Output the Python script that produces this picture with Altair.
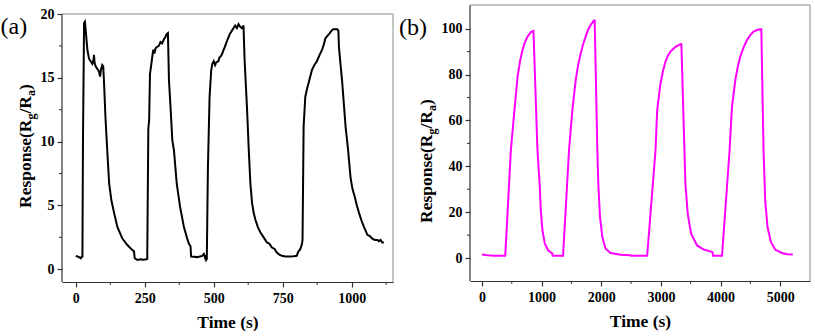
import altair as alt
import pandas as pd

# ---------------- data ----------------
# Panel (a): time (s) and response
time_a = [0, 6, 12, 18, 22, 24, 26, 30, 33, 36, 42, 48, 54, 60, 64, 66, 68, 72, 78, 84, 88, 92, 96, 99.5,
          102, 108, 114, 121, 129, 139, 151, 169, 187, 205, 211, 213.5, 223, 235, 245, 256, 259,
          261, 263, 266, 269, 274, 277, 281, 285, 289, 293, 301, 307, 313, 319, 325, 329, 334,
          337.8, 344, 350, 356, 366, 378, 392, 404, 410, 416, 418, 428, 440, 450, 458, 464, 468, 470, 473, 475,
          479, 485, 491, 495, 500, 505, 509, 517, 521, 526, 531, 536, 540, 545, 550, 554, 560, 566, 572, 578,
          584, 590, 596, 602, 606, 608, 612, 621, 627, 633, 639, 645, 651, 660, 669, 681, 693, 702, 711,
          720, 729, 738, 747, 760, 775, 790, 801, 807, 812, 816, 820, 822,
          826, 832, 838, 844, 850, 856, 865, 874, 884, 893, 899, 905, 913, 921, 927, 933, 940, 948, 952,
          954, 960, 966, 972, 978, 987, 996, 1003, 1011, 1019, 1027, 1036, 1045, 1051, 1057, 1066, 1075,
          1084, 1093, 1099, 1105, 1111, 1117]
resp_a = [1.05, 1.0, 0.95, 0.86, 1.0, 1.0, 10.0, 19.3, 19.4, 18.7, 17.2, 16.5, 16.3, 16.1, 16.4, 16.8, 16.2, 15.9,
          15.7, 15.5, 15.1, 15.7, 16.0, 15.9,
          14.8, 11.7, 9.33, 6.7, 5.4, 4.4, 3.3, 2.4, 1.9, 1.5, 1.4, 0.86, 0.73, 0.78, 0.75, 0.78, 0.8,
          6.0, 11.0, 11.7, 15.3, 16.1, 16.6, 17.2, 16.9, 17.3, 17.4, 17.5, 17.8, 17.7, 18.0, 18.2, 18.4, 18.5,
          14.8, 12.5, 10.1, 9.3, 6.7, 4.9, 3.3, 2.4, 2.0, 1.8, 1.0, 0.98, 0.95, 1.0, 1.05, 1.2, 0.95, 1.1, 0.73, 0.8,
          8.0, 13.5, 15.6, 16.1, 16.3, 16.0, 16.2, 16.3, 16.6, 16.7, 16.9, 17.2, 17.4, 17.7, 18.0, 18.2, 18.5,
          18.7, 18.9, 19.1,
          18.9, 19.2, 19.0, 18.9, 19.0, 19.1, 16.4, 12.5, 9.4, 6.7, 5.2, 4.4, 3.9, 3.3, 2.9, 2.5, 2.1, 2.0, 1.7,
          1.6, 1.3, 1.15, 1.05, 1.0, 1.0, 1.02, 1.05, 1.4, 1.5, 1.7, 2.0, 2.3,
          11.2, 13.5, 14.1, 14.6, 15.1, 15.6, 16.0, 16.3, 16.8, 17.2, 17.6, 18.1, 18.3, 18.5, 18.7, 18.8, 18.8,
          18.8, 18.7,
          17.4, 16.0, 14.6, 12.9, 11.2, 9.4, 7.2, 6.3, 5.7, 5.0, 4.4, 3.8, 3.3, 3.0, 2.7, 2.6, 2.4,
          2.3, 2.3, 2.2, 2.3, 2.1, 2.1]

# Panel (b): time (s) and response
time_b = [0, 100, 200, 300, 390, 420, 485, 540, 597, 640, 680, 720, 764, 820, 864,
          931, 955, 970, 987, 1015, 1054, 1110, 1165, 1180, 1185, 1360,
          1460, 1516, 1572, 1612, 1656, 1700, 1739, 1780, 1823, 1878, 1890,
          1935, 1951, 1979, 2018, 2074, 2157, 2324, 2491, 2500, 2770,
          2910, 2938, 2993, 3035, 3077, 3120, 3161, 3244, 3328, 3344,
          3395, 3411, 3450, 3507, 3607, 3718, 3857, 3866, 3874, 4025,
          4152, 4192, 4248, 4290, 4331, 4390, 4443, 4500, 4554, 4610, 4666, 4684,
          4721, 4749, 4788, 4844, 4916, 5028, 5120, 5212]
resp_b = [1.5, 1.2, 1.0, 1.0, 1.0, 15.0, 47.0, 63.0, 79.0, 86.0, 90.7, 94.0, 96.5, 98.5, 99.0,
          47.0, 37.0, 31.0, 20.8, 12.0, 6.3, 3.4, 2.2, 2.0, 1.0, 1.0,
          47.0, 64.5, 77.6, 84.0, 89.2, 93.5, 96.5, 99.5, 101.6, 103.5, 103.5,
          47.0, 32.5, 18.0, 9.2, 4.1, 2.2, 1.4, 1.2, 1.0, 1.0,
          47.0, 64.5, 76.0, 81.5, 85.6, 88.3, 90.0, 92.1, 93.2, 93.2,
          47.0, 32.5, 19.4, 10.6, 5.5, 3.7, 2.7, 2.6, 1.0, 1.0,
          47.0, 66.0, 77.6, 83.5, 87.8, 92.0, 95.0, 97.2, 98.7, 99.4, 99.7, 99.7,
          47.0, 25.0, 13.5, 7.0, 3.7, 2.2, 1.7, 1.5]

# axis ticks
xmajor_a = [0, 250, 500, 750, 1000]
xminor_a = [125, 375, 625, 875, 1125]
ymajor_a = [0, 5, 10, 15, 20]
yminor_a = [2.5, 7.5, 12.5, 17.5]
xmajor_b = [0, 1000, 2000, 3000, 4000, 5000]
xminor_b = [500, 1500, 2500, 3500, 4500]
ymajor_b = [0, 20, 40, 60, 80, 100]
yminor_b = [10, 30, 50, 70, 90]

panel_labels = ["(a)", "(b)"]
x_title = "Time (s)"
y_title_parts = ["Response(R", "g", "/R", "a", ")"]
y_title_sub = [False, True, False, True, False]

# ---------------- styling ----------------
SERIF = "Liberation Serif"
AX = "#333333"
FRAME = "#8a8a8a"
TITLE_SIZE = 17.5
SUB_SIZE = 12

# Times-Bold widths (per 1000 em)
TB = {"R": 722, "e": 444, "s": 389, "p": 556, "o": 500, "n": 556, "(": 333, ")": 333,
      "/": 278, "g": 500, "a": 500}


def text_width(s, size):
    return sum(TB.get(c, 500) for c in s) * size / 1000.0


def ytitle_layers(base_x, base_y):
    layers = []
    off = 0.0
    for part, sub in zip(y_title_parts, y_title_sub):
        size = SUB_SIZE if sub else TITLE_SIZE
        dx = 4 if sub else 0
        layers.append(
            alt.Chart(pd.DataFrame({"s": [part]}))
            .mark_text(angle=270, align="left", baseline="alphabetic", font=SERIF,
                       fontWeight="bold", fontSize=size, color="black")
            .encode(x=alt.value(base_x + dx), y=alt.value(base_y - off), text="s:N")
        )
        off += text_width(part, size)
    return layers


def panel(t, v, color, w, h, xdom, ydom, frame_lo, frame_hi, xmaj, xmin, ymaj, ymin,
          label, lab_x, lab_y, tx, ty):
    df = pd.DataFrame({"t": t, "v": v})
    xs = alt.Scale(domain=xdom, nice=False, zero=False)
    ys = alt.Scale(domain=ydom, nice=False, zero=False)
    xax = alt.Axis(values=xmaj, format="d", title=x_title, grid=False, tickSize=5,
                   labelPadding=4, titlePadding=8)
    yax = alt.Axis(values=ymaj, format="d", title=None, grid=False, tickSize=5, labelPadding=3,
                   domain=False)
    line = alt.Chart(df).mark_line(color=color, strokeWidth=2, clip=True).encode(
        x=alt.X("t:Q", scale=xs, axis=xax), y=alt.Y("v:Q", scale=ys, axis=yax))
    xminor = alt.Chart(pd.DataFrame({"t": xmin})).mark_rule(color=AX, strokeWidth=1).encode(
        x=alt.X("t:Q", scale=xs, axis=xax), y=alt.value(h), y2=alt.value(h + 3))
    yminor = alt.Chart(pd.DataFrame({"v": ymin})).mark_rule(color=AX, strokeWidth=1).encode(
        y=alt.Y("v:Q", scale=ys, axis=yax), x=alt.value(0), x2=alt.value(-3))
    fr = pd.DataFrame({"v": [frame_lo], "v2": [frame_hi]})
    left = alt.Chart(fr).mark_rule(color=AX, strokeWidth=1.2).encode(
        x=alt.value(0), y=alt.Y("v:Q", scale=ys, axis=yax), y2="v2:Q")
    right = alt.Chart(fr).mark_rule(color=FRAME, strokeWidth=1).encode(
        x=alt.value(w), y=alt.Y("v:Q", scale=ys, axis=yax), y2="v2:Q")
    top = alt.Chart(pd.DataFrame({"v": [frame_hi]})).mark_rule(color=FRAME, strokeWidth=1).encode(
        x=alt.value(0), x2=alt.value(w), y=alt.Y("v:Q", scale=ys, axis=yax))
    lab = alt.Chart(pd.DataFrame({"s": [label]})).mark_text(
        align="left", baseline="middle", font=SERIF, fontSize=24, color="black").encode(
        x=alt.value(lab_x), y=alt.value(lab_y), text="s:N")
    spacer = alt.Chart(pd.DataFrame({"s": [label]})).mark_rule(opacity=0).encode(
        x=alt.value(0), y=alt.value(-5), y2=alt.value(0))
    layers = [line, xminor, yminor, left, right, top, lab, spacer, *ytitle_layers(tx, ty)]
    return alt.layer(*layers).properties(width=w, height=h)


pa = panel(time_a, resp_a, "#000000", 331, 277, [-50, 1150], [-1, 20.706], -1, 20,
           xmajor_a, xminor_a, ymajor_a, yminor_a, panel_labels[0], -61.5, 22, -31.5, 203)
pb = panel(time_b, resp_b, "#FF00FF", 340, 276, [-200, 5500], [-10, 110.3], -10, 110.3,
           xmajor_b, xminor_b, ymajor_b, yminor_b, panel_labels[1], -71, 23, -38, 218)

chart = alt.hconcat(pa, pb, spacing=5).properties(
    padding={"left": 0, "top": 0, "right": 0, "bottom": 0}
).configure_view(stroke=None).configure_axis(
    labelFont=SERIF, labelFontWeight="bold", labelFontSize=14, labelColor="black",
    titleFont=SERIF, titleFontWeight="bold", titleFontSize=TITLE_SIZE, titleColor="black",
    domainColor=AX, tickColor=AX, domainWidth=1.2, tickWidth=1.2
)

chart.save("out.html", embed_options={"renderer": "svg", "actions": False})
